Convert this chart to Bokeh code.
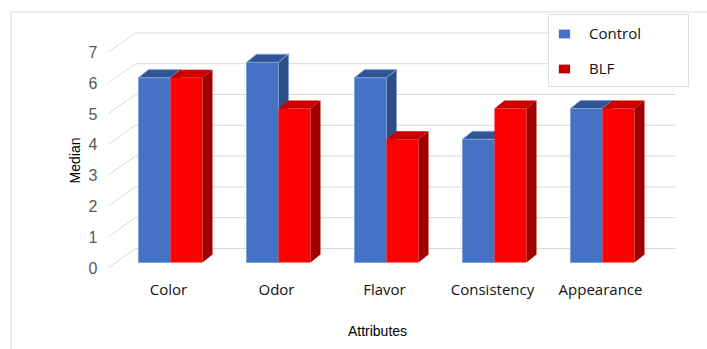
from bokeh.plotting import figure
from bokeh.models import Range1d, Legend, LegendItem, ColumnDataSource
from bokeh.core.properties import value
from bokeh.embed import file_html
from bokeh.resources import INLINE
import math

# ---------------- data ----------------
CATEGORIES = ["Color", "Odor", "Flavor", "Consistency", "Appearance"]
CONTROL = [6, 6.5, 6, 4, 5]
BLF = [6, 5, 4, 5, 5]
Y_TICKS = [0, 1, 2, 3, 4, 5, 6, 7]
SERIES_NAMES = ["Control", "BLF"]
X_TITLE = "Attributes"
Y_TITLE = "Median"

# ---------------- layout (pixel-based constants) ----------------
W, H = 707, 349
PX_X = 108.0     # pixels per category
X0 = 170.0       # pixel x of first category centre
PX_Y = 30.8      # pixels per value unit
Y0 = 262.0       # pixel y of value 0 (bar base)


def px_x(px):
    return (px - X0) / PX_X


def px_y(py):
    return (Y0 - py) / PX_Y


def dx(px):
    return px / PX_X


def dy(px):
    return px / PX_Y


BW = dx(32)          # bar width
DX, DY = dx(10), dy(8)   # bar depth offsets

p = figure(width=W, height=H, output_backend="svg", toolbar_location=None,
           x_range=Range1d(px_x(0), px_x(W)), y_range=Range1d(px_y(H), px_y(0)),
           x_axis_location=None, y_axis_location=None, min_border=0,
           outline_line_color=None, background_fill_color="white",
           border_fill_color="white")
p.xgrid.visible = False
p.ygrid.visible = False

GRID = "#d9d9d9"
# outer chart border (top and left)
p.segment(x0=[px_x(10.5), px_x(10.5)], y0=[px_y(11.5), px_y(11.5)],
          x1=[px_x(W), px_x(10.5)], y1=[px_y(11.5), px_y(H)],
          line_color="#d9d9d9", line_width=1)

# 3D gridlines: back wall + diagonal floor lines
FRONT_X, BACK_L, BACK_R = px_x(108), px_x(135), px_x(675)
FRONT_DY, BACK_DY = -dy(5), dy(14)
p.segment(x0=[BACK_L] * len(Y_TICKS), y0=[v + BACK_DY for v in Y_TICKS],
          x1=[BACK_R] * len(Y_TICKS), y1=[v + BACK_DY for v in Y_TICKS],
          line_color=GRID, line_width=1)
p.segment(x0=[FRONT_X] * len(Y_TICKS), y0=[v + FRONT_DY for v in Y_TICKS],
          x1=[BACK_L] * len(Y_TICKS), y1=[v + BACK_DY for v in Y_TICKS],
          line_color=GRID, line_width=1)

# y tick labels
p.text(x=[px_x(97)] * len(Y_TICKS), y=[v + FRONT_DY for v in Y_TICKS],
       text=[str(v) for v in Y_TICKS], text_align="right", text_baseline="middle",
       text_font=value("Liberation Sans"), text_font_size="16px", text_color="#595959")


def draw_series(vals, offset, front, top, side, edge):
    lefts = [i + offset for i in range(len(vals))]
    rights = [l + BW for l in lefts]
    p.quad(left=lefts, right=rights, bottom=[0] * len(vals), top=vals,
           fill_color=front, line_color=edge, line_width=1)
    top_xs = [[l, r, r + DX, l + DX] for l, r in zip(lefts, rights)]
    top_ys = [[v, v, v + DY, v + DY] for v in vals]
    p.patches(xs=top_xs, ys=top_ys, fill_color=top, line_color=edge, line_width=1)
    side_xs = [[r, r + DX, r + DX, r] for r in rights]
    side_ys = [[0, DY, v + DY, v] for v in vals]
    p.patches(xs=side_xs, ys=side_ys, fill_color=side, line_color=edge, line_width=1)


draw_series(CONTROL, -BW, "#4472C4", "#2F5597", "#2F4E88", "#7F9ED6")
draw_series(BLF, 0, "#FF0000", "#CC0000", "#A00000", None)

# category labels
p.text(x=[i - dx(2) for i in range(len(CATEGORIES))], y=[px_y(288)] * len(CATEGORIES),
       text=CATEGORIES, text_align="center", text_baseline="middle",
       text_font=value("Open Sans"), text_font_size="15px", text_color="#111111")

# axis titles
p.text(x=[px_x(377)], y=[px_y(330)], text=[X_TITLE], text_align="center",
       text_baseline="middle", text_font=value("Liberation Sans"),
       text_font_size="14px", text_color="#000000")
p.text(x=[px_x(74)], y=[px_y(160)], text=[Y_TITLE], angle=math.pi / 2,
       text_align="center", text_baseline="middle", text_font=value("Liberation Sans"),
       text_font_size="14px", text_color="#000000")

# legend swatches: zero-size quads (invisible on the plot)
swatch = ColumnDataSource(dict(left=[0], right=[0], top=[0], bottom=[0]))
r_c = p.quad(left="left", right="right", top="top", bottom="bottom", source=swatch,
             fill_color="#4472C4", line_color=None)
r_b = p.quad(left="left", right="right", top="top", bottom="bottom", source=swatch,
             fill_color="#C00000", line_color=None)
legend = Legend(items=[LegendItem(label=SERIES_NAMES[0], renderers=[r_c]),
                       LegendItem(label=SERIES_NAMES[1], renderers=[r_b])],
                location=(548, H - 87), margin=0, padding=8, spacing=15,
                glyph_width=14, glyph_height=11, label_standoff=18,
                label_width=91, label_height=16,
                label_text_font="Open Sans", label_text_font_size="15px",
                label_text_color="#111111",
                border_line_color="#bfbfbf", border_line_width=1,
                background_fill_color="white", background_fill_alpha=1)
p.add_layout(legend)

open("out.html", "w").write(file_html(p, INLINE))
